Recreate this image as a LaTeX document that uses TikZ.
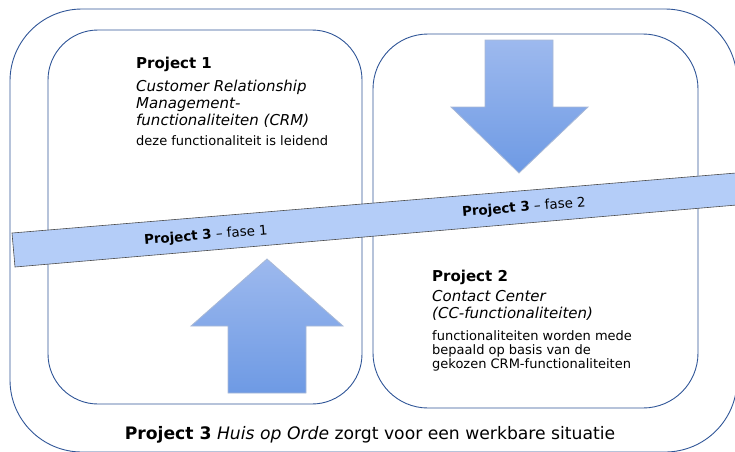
\documentclass[tikz,border=0pt]{standalone}
\usepackage{fontspec}
\setmainfont{DejaVu Sans}
\usetikzlibrary{positioning}
\definecolor{frameblue}{HTML}{2F5597}
\definecolor{bandfill}{HTML}{B4CDF8}
\definecolor{arrowtop}{HTML}{9DB9EE}
\definecolor{arrowbot}{HTML}{6E9AE4}
\definecolor{arrowline}{HTML}{A9B9D6}

\tikzset{
  frame/.style={draw=frameblue, line width=0.9pt},
  bigarrow/.style={draw=arrowline, line width=0.8pt, top color=arrowtop, bottom color=arrowbot},
  band/.style={draw=black!70, fill=bandfill, line width=0.6pt},
  ptitle/.style={anchor=base west, inner sep=0pt, font=\bfseries\fontsize{15}{18}\selectfont},
  psub/.style={anchor=base west, inner sep=0pt, align=left, font=\itshape\fontsize{15}{16.7}\selectfont},
  pbody/.style={anchor=base west, inner sep=0pt, align=left, font=\fontsize{13}{14.1}\selectfont},
  fase/.style={inner sep=0pt, rotate=4.8, font=\fontsize{13.4}{15}\selectfont}
}

\begin{document}
\begin{tikzpicture}[x=1pt, y=-1pt]
  \useasboundingbox (0,0) rectangle (735,451);
  \clip (0,0) rectangle (735,451);

  % kaders
  \draw[frame, rounded corners=72] (10,9) rectangle (737,452);
  \draw[frame, rounded corners=50] (48,30) rectangle (362,404);
  \draw[frame, rounded corners=55] (373,34) rectangle (698,408);

  % pijlen
  \draw[bigarrow] (485,40) -- (553,40) -- (553,107) -- (588,107) -- (519,173)
    -- (451,107) -- (485,107) -- cycle;
  \draw[bigarrow] (228,393) -- (306,393) -- (306,326) -- (343,326) -- (267,259)
    -- (191,326) -- (228,326) -- cycle;

  % balk
  \draw[band] (12,233) -- (760,171) -- (760,203) -- (15,267) -- cycle;
  \node[fase] (f1) at (206,236) {\textbf{Project 3} – fase 1};
  \node[fase] (f2) at (524,208) {\textbf{Project 3} – fase 2};

  % project 1 (base = laatste regel)
  \node[ptitle] (p1) at (136,68.3) {Project 1};
  \node[psub] (p1sub) at (136,125) {Customer Relationship\\Management-\\functionaliteiten (CRM)};
  \node[pbody] (p1txt) at (136,145.7) {deze functionaliteit is leidend};

  % project 2
  \node[ptitle] (p2) at (432,281) {Project 2};
  \node[psub] (p2sub) at (432,318.5) {Contact Center\\(CC-functionaliteiten)};
  \node[pbody] (p2txt) at (432,368.3) {functionaliteiten worden mede\\bepaald op basis van de\\gekozen CRM-functionaliteiten};

  % project 3
  \node[inner sep=0pt, anchor=base, font=\fontsize{17.2}{20}\selectfont] (p3) at (370,439)
    {\textbf{Project 3} \textit{Huis op Orde} zorgt voor een werkbare situatie};
\end{tikzpicture}
\end{document}
